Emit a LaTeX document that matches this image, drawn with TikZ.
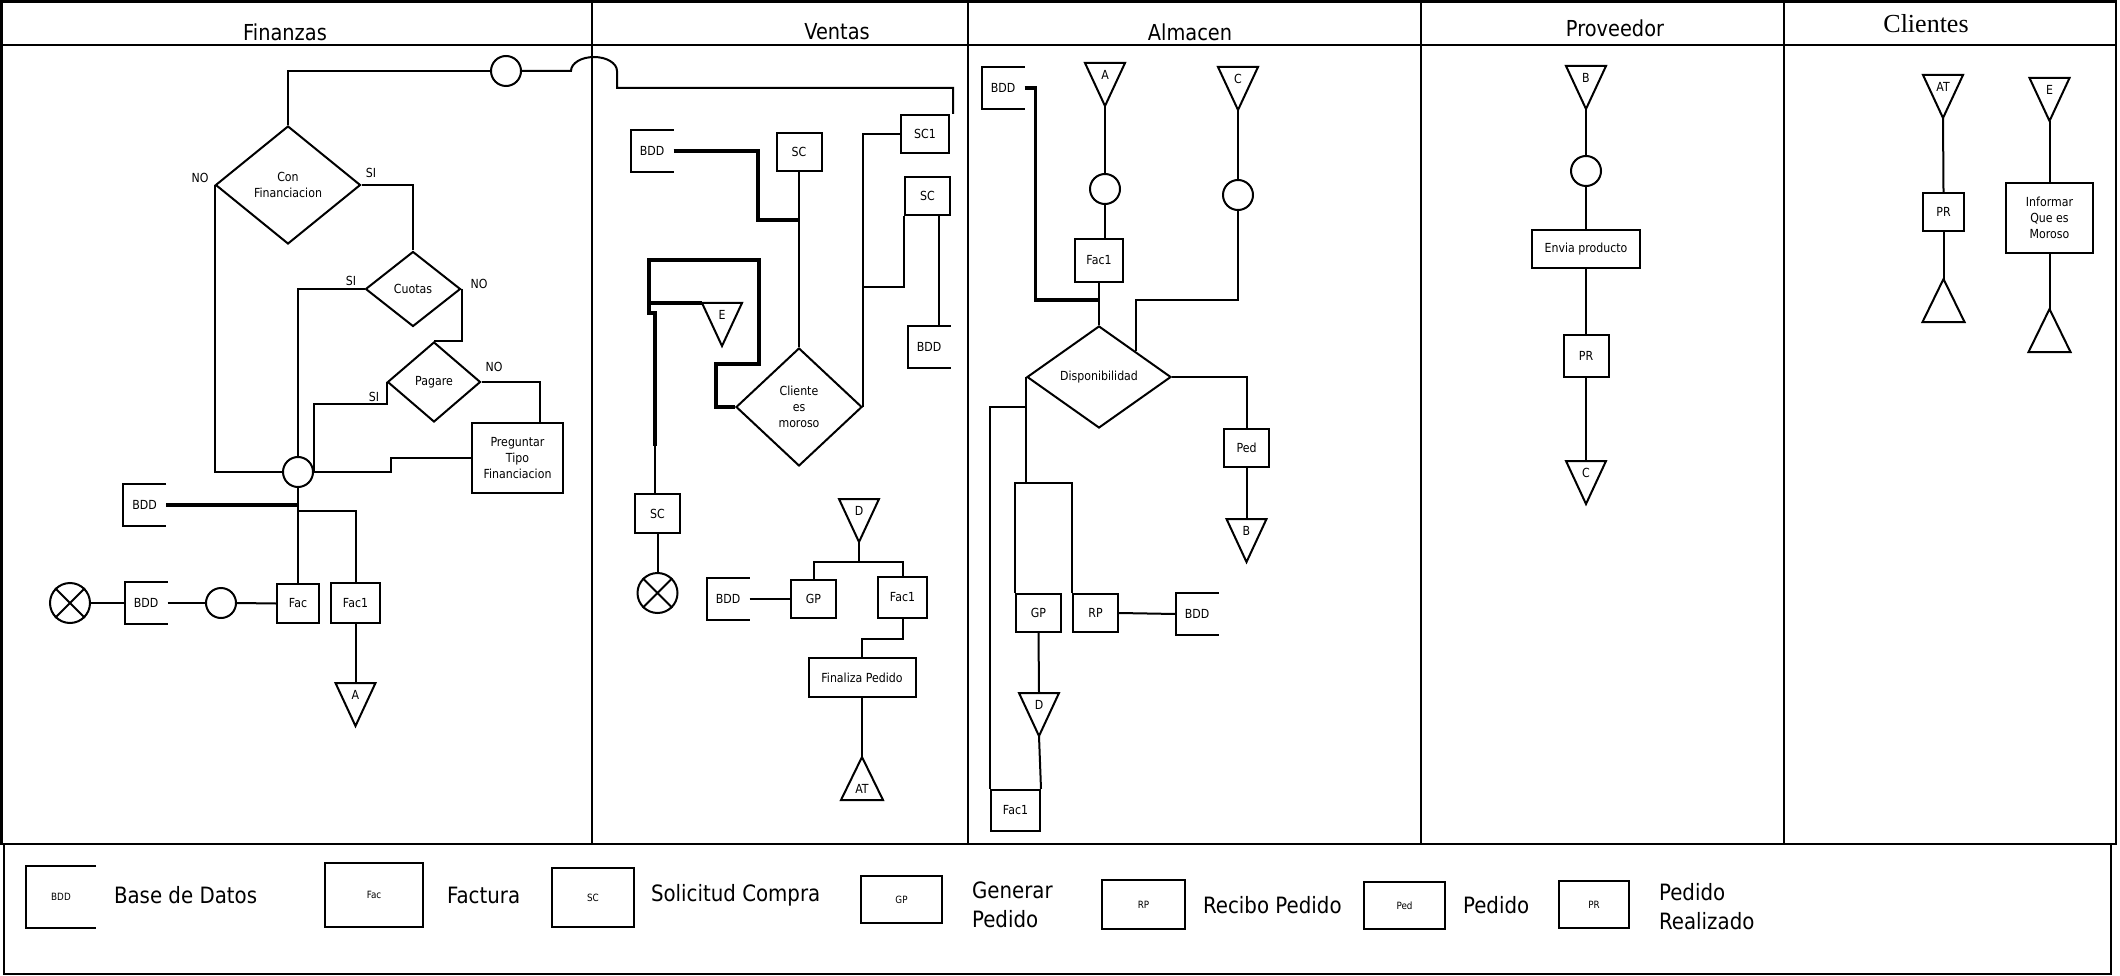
\documentclass[tikz,border=0pt]{standalone}
\usepackage{fontspec}
\setmainfont{DejaVu Sans}[FakeStretch=0.88]
\newfontfamily\serfont{Liberation Serif}
\usetikzlibrary{shapes.geometric,calc}

\newcommand\lblf{\fontsize{12.5}{16}\selectfont}
\newcommand\ttlf{\fontsize{22}{26}\selectfont}
\newcommand\legf{\fontsize{22.5}{29}\selectfont}
\newcommand\lgsmall{\fontsize{10}{12}\selectfont}

\begin{document}
\begin{tikzpicture}[x=1pt,y=-1pt,line width=2pt,
	proc/.style={draw,rectangle,inner sep=0pt,font=\lblf,align=center},
	dec/.style={draw,diamond,inner sep=0pt,font=\lblf,align=center},
	cnt/.style={draw,circle,minimum size=30pt,inner sep=0pt},
	fin/.style={draw,circle,minimum size=40pt,inner sep=0pt},
	bdd/.style={rectangle,minimum width=41pt,minimum height=40pt,inner sep=0pt,font=\lblf},
	lab/.style={font=\lblf,inner sep=0pt},
	ttl/.style={font=\ttlf,inner sep=0pt},
	leg/.style={font=\legf,inner sep=0pt,anchor=west,align=left},
	lgbox/.style={draw,rectangle,inner sep=0pt,font=\lgsmall},
	bold/.style={line width=3.5pt},
	frm/.style={line width=2.5pt}
	]
	\useasboundingbox (0,0) rectangle (2120,976);
	
	% lanes
	\draw[frm] (1.5,1.5) rectangle (2116,844);
	\draw[frm] (1.5,45) -- (2116,45);
	\foreach \cx in {592,968,1421,1784}
	\draw[frm] (\cx,1.5) -- (\cx,844);
	\draw (3.5,844) rectangle (2111,973.5);
	
	\node[ttl] (tfin) at (285,32) {Finanzas};
	\node[ttl] (tven) at (837,32) {Ventas};
	\node[ttl] (talm) at (1190,32) {Almacen};
	\node[ttl] (tpro) at (1615,28) {Proveedor};
	\node[ttl,font=\serfont\fontsize{26}{30}\selectfont] (tcli) at (1926,24) {Clientes};
	
	% off-page triangles
	\foreach \n/\x/\y/\t in {fA/355.5/683/A, vE/722/303/E, vD/859/499/D, aA/1105/63/A,
		aC/1238/67/C, aB/1246.5/519/B, aD/1039/693/D, pB/1586/66/B, pC/1586/461/C,
		cAT/1943/75/AT, cE/2049.5/78/E} {
		\draw (\x-20,\y) -- (\x+20,\y) -- (\x,\y+43) -- cycle;
		\node[lab] (\n) at (\x,\y+12) {\t};
		\coordinate (\n-t) at (\x,\y);
		\coordinate (\n-b) at (\x,\y+43);
	}
	\foreach \n/\x/\y in {vAT/862/757, cU1/1943.5/279, cU2/2049.5/309} {
		\draw (\x,\y) -- (\x+21,\y+43) -- (\x-21,\y+43) -- cycle;
		\coordinate (\n-t) at (\x,\y);
	}
	\node[lab] (vATl) at (862,789) {AT};
	
	% Finanzas
	\node[cnt] (fcon) at (506,71) {};
	\node[dec,minimum width=145pt,minimum height=118pt] (fcf) at (288,185) {Con\\Financiacion};
	\node[dec,minimum width=95pt,minimum height=75pt] (fcu) at (413,289) {Cuotas};
	\node[dec,minimum width=93pt,minimum height=80pt] (fpa) at (434,382) {Pagare};
	\node[proc,minimum width=91pt,minimum height=70pt] (fpt) at (517.5,458) {Preguntar\\Tipo\\Financiacion};
	\node[cnt] (fm) at (298,472) {};
	\node[bdd] (fb1) at (144.5,505) {BDD};
	\node[bdd] (fb2) at (146,603) {BDD};
	\node[fin] (fx) at (70,603) {};
	\node[cnt] (fc2) at (221,603) {};
	\node[proc,minimum width=42pt,minimum height=39pt] (ffac) at (298,603.5) {Fac};
	\node[proc,minimum width=49pt,minimum height=40pt] (ffac1) at (355.5,603) {Fac1};
	\node[lab] (fl1) at (200,178) {NO};
	\node[lab] (fl2) at (371,173) {SI};
	\node[lab] (fl3) at (351,281) {SI};
	\node[lab] (fl4) at (479,284) {NO};
	\node[lab] (fl5) at (374,397) {SI};
	\node[lab] (fl6) at (494,367) {NO};
	
	\draw (fcf.north) |- (fcon.west);
	\draw (fcf.east) -| (fcu.north);
	\draw (fcf.west) |- (fm.west);
	\draw (fcu.west) -| (fm.north);
	\draw (fcu.east) |- (fpa.north);
	\draw (fpa.west) -- ++(0,22) -| (fm.east);
	\draw (fpa.east) -| ([xshift=22.5pt]fpt.north);
	\draw (fpt.west) -- ++(-80,0) |- (fm.east);
	\draw (fm.south) -- (fm.south |- ffac.north);
	\draw[bold] (fb1.east) -- (fb1.east -| fm.south);
	\draw ($(fm.south)+(0,23)$) -| (ffac1.north);
	\draw (ffac1.south) -- (fA-t);
	\draw (fx.north west) -- (fx.south east) (fx.north east) -- (fx.south west);
	\draw (fx.east) -- (fb2.west);
	\draw (fb2.east) -- (fc2.west);
	\draw (fc2.east) -- (ffac.west);
	
	% Ventas
	\node[bdd] (vb1) at (652,151) {BDD};
	\node[proc,minimum width=45pt,minimum height=38pt] (vsc) at (799,152) {SC};
	\node[proc,minimum width=48pt,minimum height=38pt] (vsc1) at (925,134) {SC1};
	\node[proc,minimum width=45pt,minimum height=38pt] (vsc2) at (927.5,196) {SC};
	\node[bdd] (vb2) at (929,347) {BDD};
	\node[dec,minimum width=126pt,minimum height=118pt] (vcm) at (799,407) {Cliente\\es\\moroso};
	\node[proc,minimum width=45pt,minimum height=39pt] (vsc3) at (657.5,513.5) {SC};
	\node[fin] (vx) at (657.5,593) {};
	\node[bdd] (vb3) at (728,599) {BDD};
	\node[proc,minimum width=45pt,minimum height=38pt] (vgp) at (813.5,599) {GP};
	\node[proc,minimum width=49pt,minimum height=41pt] (vfac1) at (902.5,597.5) {Fac1};
	\node[proc,minimum width=107pt,minimum height=39pt] (vfp) at (862,677.5) {Finaliza Pedido};
	
	\draw (fcon.east) -- ++(49,0) arc[start angle=180,end angle=0,x radius=23pt,y radius=14pt]
	-- ++(0,17) -| ([xshift=3pt]vsc1.north east);
	\coordinate (vj1) at ($(vsc.south)+(0,48)$);
	\draw[bold] (vb1.east) -| ($(vj1)+(-41,0)$) -- (vj1);
	\draw (vsc.south) -- (vcm.north);
	\draw (vcm.east) |- (vsc1.west);
	\draw (vsc2.south west) |- ($(vcm.east)+(0,-120)$);
	\draw ([xshift=11.5pt]vsc2.south) -- ([xshift=10pt]vb2.north);
	\draw[bold] (vcm.west) -- ++(-19,0) -- ++(0,-43) -- ++(43,0) -- ++(0,-104)
	-- ++(-110,0) -- ++(0,53) -- ++(6,0) -- ++(0,133) coordinate (vjE);
	\draw[bold] ($(vE-t)+(-20,0)$) -- ++(-51,0);
	\draw (vjE) -- (vjE |- vsc3.north);
	\draw (vsc3.south) -- (vx.north);
	\draw (vx.north west) -- (vx.south east) (vx.north east) -- (vx.south west);
	\draw (vD-b) -- ++(0,20) coordinate (vjD);
	\draw (vgp.north) |- (vjD) -| (vfac1.north);
	\draw (vb3.east) -- (vgp.west);
	\draw (vfac1.south) -- ++(0,20) -| (vfp.north);
	\draw (vfp.south) -- (vAT-t);
	
	% Almacen
	\node[bdd] (ab1) at (1003,88) {BDD};
	\node[cnt] (ac1) at (1105,189) {};
	\node[proc,minimum width=48pt,minimum height=43pt] (afac1) at (1099,260.5) {Fac1};
	\node[cnt] (ac2) at (1238,195) {};
	\node[dec,minimum width=144pt,minimum height=102pt] (adisp) at (1099,377) {Disponibilidad};
	\node[proc,minimum width=45pt,minimum height=38pt] (aped) at (1246.5,448) {Ped};
	\node[proc,minimum width=45pt,minimum height=38pt] (agp) at (1038.5,613) {GP};
	\node[proc,minimum width=45pt,minimum height=38pt] (arp) at (1095.5,613) {RP};
	\node[bdd] (ab2) at (1197,614) {BDD};
	\node[proc,minimum width=49pt,minimum height=41pt] (afac) at (1015.5,810.5) {Fac1};
	
	\draw[bold] (ab1.east) -- ++(11,0) |- ($(afac1.south)+(0,17)$);
	\draw (aA-b) -- (ac1.north);
	\draw (ac1.south) -- (ac1.south |- afac1.north);
	\draw (afac1.south) -- (adisp.north);
	\draw (aC-b) -- (ac2.north);
	\draw (ac2.south) -- ++(0,89) -| ($(adisp.north)!0.5!(adisp.east)$);
	\draw (adisp.east) -| (aped.north);
	\draw (aped.south) -- (aB-t);
	\draw (adisp.west) -- ++(0,106) coordinate (aj);
	\draw (agp.north west) |- (aj) -| (arp.north west);
	\draw (adisp.west) ++(0,30) -| (afac.north west);
	\draw (arp.east) -- (ab2.west);
	\draw (agp.south) -- (aD-t);
	\draw (aD-b) -- (afac.north east);
	
	% Proveedor
	\node[cnt] (pc) at (1586,171) {};
	\node[proc,minimum width=108pt,minimum height=38pt] (penv) at (1586,249) {Envia producto};
	\node[proc,minimum width=45pt,minimum height=42pt] (ppr) at (1586,356) {PR};
	\draw (pB-b) -- (pc.north);
	\draw (pc.south) -- (penv.north);
	\draw (penv.south) -- (ppr.north);
	\draw (ppr.south) -- (pC-t);
	
	% Clientes
	\node[proc,minimum width=41pt,minimum height=38pt] (cpr) at (1943.5,212) {PR};
	\node[proc,minimum width=87pt,minimum height=70pt] (cinf) at (2049.5,218) {Informar\\Que es\\Moroso};
	\draw (cAT-b) -- (cpr.north);
	\draw (cpr.south) -- (cU1-t);
	\draw (cE-b) -- (cinf.north);
	\draw (cinf.south) -- (cU2-t);
	
	% leyenda
	\node[bdd,minimum width=68pt,minimum height=60pt,font=\lgsmall] (lbdd) at (61,897) {BDD};
	\node[lgbox,minimum width=98pt,minimum height=64pt] (lfac) at (374,895) {Fac};
	\node[lgbox,minimum width=82pt,minimum height=59pt] (lsc) at (593,897.5) {SC};
	\node[lgbox,minimum width=81pt,minimum height=47pt] (lgp) at (901.5,899.5) {GP};
	\node[lgbox,minimum width=83pt,minimum height=49pt] (lrp) at (1143.5,904.5) {RP};
	\node[lgbox,minimum width=81pt,minimum height=47pt] (lped) at (1404.5,905.5) {Ped};
	\node[lgbox,minimum width=70pt,minimum height=47pt] (lpr) at (1594,904.5) {PR};
	\node[leg] (t1) at (113,895) {Base de Datos};
	\node[leg] (t2) at (446,895) {Factura};
	\node[leg] (t3) at (650,895) {Solicitud Compra};
	\node[leg] (t4) at (971,905) {Generar\\Pedido};
	\node[leg] (t5) at (1202,905) {Recibo Pedido};
	\node[leg] (t6) at (1462,905) {Pedido};
	\node[leg] (t7) at (1658,907) {Pedido\\Realizado};
	
	\foreach \b in {fb1,fb2,vb1,vb2,vb3,ab1,ab2,lbdd}
	\draw (\b.north east) -- (\b.north west) -- (\b.south west) -- (\b.south east);
\end{tikzpicture}
\end{document}
